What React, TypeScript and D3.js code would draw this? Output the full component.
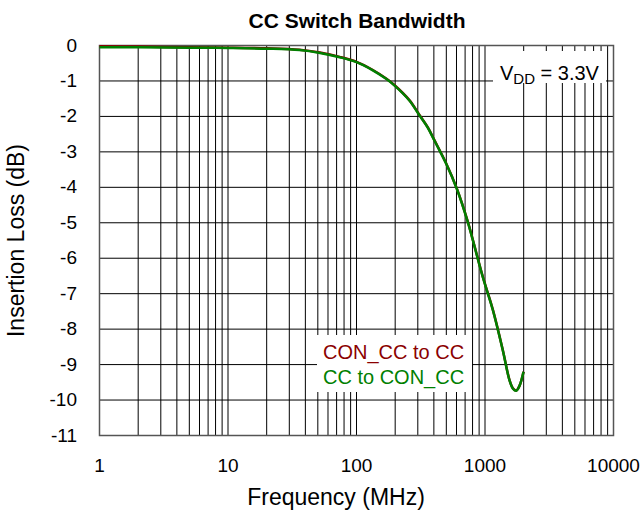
import React from "react";
import * as d3 from "d3";

const freqMHz = [1, 2, 5, 10, 20, 36, 52, 74, 100, 134, 170, 198, 258, 309, 359, 404, 498, 603, 735, 804, 961, 1151, 1374, 1550, 1650, 1750, 1855, 1995];
const ccToConCc = [-0.05, -0.05, -0.06, -0.07, -0.09, -0.13, -0.21, -0.33, -0.47, -0.7, -0.94, -1.13, -1.55, -1.97, -2.32, -2.68, -3.33, -4.04, -4.98, -5.49, -6.53, -7.46, -8.59, -9.44, -9.68, -9.74, -9.6, -9.2];
const conCcToCc = [-0.02, -0.03, -0.05, -0.06, -0.08, -0.12, -0.2, -0.32, -0.46, -0.69, -0.93, -1.12, -1.54, -1.96, -2.31, -2.67, -3.32, -4.03, -4.97, -5.48, -6.52, -7.45, -8.58, -9.43, -9.67, -9.73, -9.6, -9.2];
const xTicks = [1, 10, 100, 1000, 10000];
const yTicks = [0, -1, -2, -3, -4, -5, -6, -7, -8, -9, -10, -11];
const seriesNames = ["CON_CC to CC", "CC to CON_CC"];
const seriesColors = ["#8b0000", "#008000"];

const W = 642, H = 522;
const L = 99.5, R = 613.5, T = 45.5, B = 435.5;
const FONT = "Arial, 'Liberation Sans', sans-serif";

export default function App() {
  const x = d3.scaleLog().domain([1, 10000]).range([L, R]);
  const y = d3.scaleLinear().domain([0, -11]).range([T, B]);
  const minor: number[] = [];
  for (const dec of [1, 10, 100, 1000]) for (let k = 1; k <= 9; k++) minor.push(dec * k);
  minor.push(10000);
  const line = d3.line<number>()
    .x((_, i) => x(freqMHz[i]))
    .y((d) => y(d))
    .curve(d3.curveCatmullRom.alpha(0.5));
  return (
    <svg width={W} height={H} style={{ position: "absolute", left: 0, top: 0, background: "#fff" }} fontFamily={FONT}>
      <rect x={0} y={0} width={W} height={H} fill="#fff" />
      {minor.map((f, i) => (
        <line key={"v" + i} x1={x(f)} x2={x(f)} y1={T} y2={B} stroke="#000" strokeWidth={1} />
      ))}
      {yTicks.map((t) => (
        <line key={"h" + t} x1={L} x2={R} y1={y(t)} y2={y(t)} stroke="#000" strokeWidth={1} />
      ))}
      {/* VDD box */}
      <rect x={493} y={51} width={113} height={32} fill="#fff" />
      <text x={500} y={80} fontSize={20} fill="#000">
        V<tspan fontSize={15} dy={4}>DD</tspan><tspan dy={-4}> = 3.3V</tspan>
      </text>
      {/* legend box */}
      <rect x={317} y={335} width={155} height={57} fill="#fff" />
      <text x={323} y={359} fontSize={20} fill={seriesColors[0]}>{seriesNames[0]}</text>
      <text x={323} y={384} fontSize={20} fill={seriesColors[1]}>{seriesNames[1]}</text>
      <rect x={L} y={T} width={R - L} height={B - T} fill="none" stroke="#555" strokeWidth={1.5} />
      <path d={line(conCcToCc) || ""} fill="none" stroke={seriesColors[0]} strokeWidth={2.5} />
      <path d={line(ccToConCc) || ""} fill="none" stroke={seriesColors[1]} strokeWidth={2.5} />
      {yTicks.map((t) => (
        <text key={"yl" + t} x={77} y={y(t) + 6} fontSize={19} textAnchor="end" fill="#000">{t}</text>
      ))}
      {xTicks.map((t) => (
        <text key={"xl" + t} x={x(t)} y={472} fontSize={19} textAnchor="middle" fill="#000">{t}</text>
      ))}
      <text x={357} y={28} fontSize={21} fontWeight="bold" textAnchor="middle" fill="#000">CC Switch Bandwidth</text>
      <text x={336} y={505} fontSize={23} textAnchor="middle" fill="#000">Frequency (MHz)</text>
      <text transform={`translate(24,${(T + B) / 2}) rotate(-90)`} fontSize={23} textAnchor="middle" fill="#000">Insertion Loss (dB)</text>
    </svg>
  );
}
